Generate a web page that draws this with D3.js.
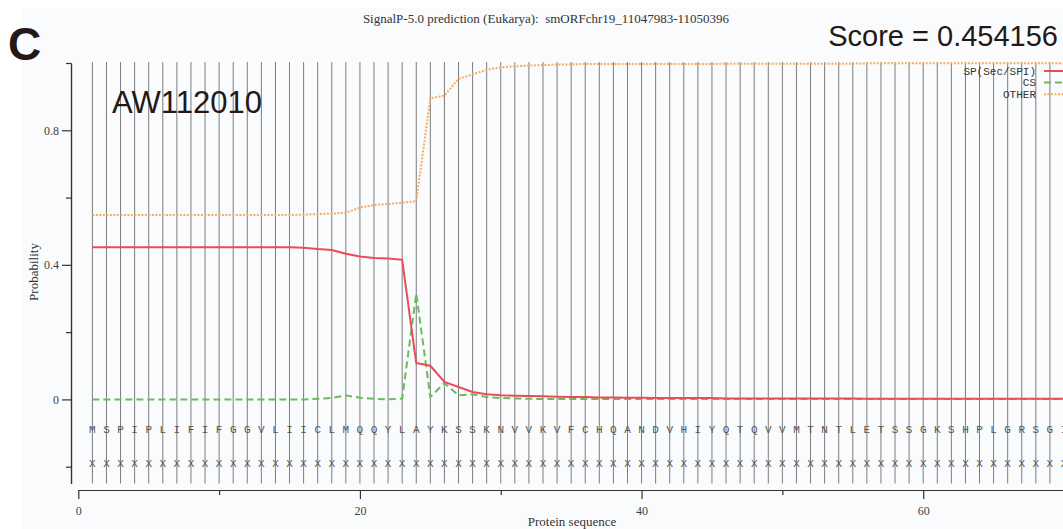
<!doctype html>
<html>
<head>
<title>SignalP-5.0 prediction</title>
<script src="https://d3js.org/d3.v7.min.js"></script>
<style>
  body { margin: 0; background: #fff; }
  svg { display: block; }
</style>
</head>
<body>
<script>

// sequence residues, position 1..70
var residues = "MSPIPLIFIFGGVLIICLMQQYLAYKSSKNVVKVFCHQANDVHIYQTQVVMTNTLETSSGKSHPLGRSGI".split("");

// probabilities per position
var spValues = [0.452,0.452,0.452,0.452,0.452,0.452,0.452,0.452,0.452,0.452,
                0.452,0.452,0.452,0.452,0.452,0.451,0.447,0.444,0.433,0.425,
                0.420,0.419,0.415,0.108,0.100,0.052,0.037,0.022,0.015,0.012,
                0.011,0.010,0.009,0.008,0.007,0.007,0.006,0.006,0.005,0.005,
                0.004,0.004,0.004,0.004,0.004,0.003,0.003,0.003,0.003,0.003,
                0.003,0.003,0.003,0.003,0.003,0.002,0.002,0.002,0.002,0.002,
                0.002,0.002,0.002,0.002,0.002,0.002,0.002,0.002,0.002,0.002];

var csValues = [0.000,0.000,0.000,0.000,0.000,0.000,0.000,0.000,0.000,0.000,
                0.000,0.000,0.000,0.000,0.000,0.000,0.002,0.004,0.012,0.005,
                0.002,0.000,0.002,0.315,0.007,0.049,0.012,0.015,0.007,0.004,
                0.003,0.002,0.001,0.001,0.001,0.001,0.001,0.001,0.001,0.001,
                0.001,0.001,0.001,0.001,0.001,0.001,0.001,0.001,0.001,0.001,
                0.001,0.001,0.001,0.001,0.001,0.001,0.001,0.001,0.001,0.001,
                0.001,0.001,0.001,0.001,0.001,0.001,0.001,0.001,0.001,0.001];

var otherValues = [0.548,0.548,0.548,0.548,0.548,0.548,0.548,0.548,0.548,0.548,
                   0.548,0.548,0.548,0.548,0.548,0.549,0.551,0.552,0.555,0.570,
                   0.578,0.581,0.585,0.589,0.895,0.903,0.953,0.966,0.980,0.987,
                   0.990,0.992,0.994,0.995,0.996,0.997,0.997,0.997,0.997,0.997,
                   0.997,0.997,0.997,0.997,0.997,0.998,0.998,0.998,0.998,0.998,
                   0.998,0.998,0.998,0.998,0.998,0.999,0.999,0.999,0.999,0.999,
                   0.999,0.999,0.999,0.999,0.999,0.999,0.999,0.999,0.999,0.999];

var xMajorTicks = [0, 20, 40, 60];
var xMinorTicks = [10, 30, 50, 70];
var yMajorTicks = [0, 0.4, 0.8];
var yMinorTicks = [-0.2, 0.2, 0.6, 1.0];

var legendNames = ["SP(Sec/SPI)", "CS", "OTHER"];

var W = 1063, H = 529;

var svg = d3.select("body").append("svg").attr("width", W).attr("height", H);

// faint panel background
svg.append("rect").attr("x", 23).attr("y", 8).attr("width", W - 23).attr("height", H - 8)
   .attr("fill", "#f9fbfd");

var xscale = d3.scaleLinear().domain([0, 70]).range([78.3, 1064]);
var yscale = d3.scaleLinear().domain([-0.25, 1.0]).range([483.5, 63]);

var positions = d3.range(1, residues.length + 1);

// vertical guide line at every residue
svg.append("g").selectAll("line").data(positions).enter().append("line")
   .attr("x1", function(d){ return xscale(d); })
   .attr("x2", function(d){ return xscale(d); })
   .attr("y1", 62)
   .attr("y2", yscale(-0.25))
   .attr("stroke", "#7c7c7c")
   .attr("stroke-width", 1);

// residue letters and X row
var seqFont = "'Liberation Mono', 'DejaVu Sans Mono', monospace";
svg.append("g").selectAll("text").data(positions).enter().append("text")
   .attr("x", function(d){ return xscale(d); })
   .attr("y", yscale(-0.1))
   .attr("text-anchor", "middle")
   .attr("font-family", seqFont).attr("font-size", 11).attr("fill", "#555")
   .text(function(d){ return residues[d - 1]; });

svg.append("g").selectAll("text").data(positions).enter().append("text")
   .attr("x", function(d){ return xscale(d); })
   .attr("y", yscale(-0.2))
   .attr("text-anchor", "middle")
   .attr("font-family", seqFont).attr("font-size", 11).attr("fill", "#555")
   .text("X");

// axes
var serif = "'Liberation Serif', 'DejaVu Serif', serif";
var axisColor = "#3a302c";

var yAxisG = svg.append("g").attr("transform", "translate(71,0)")
   .call(d3.axisLeft(yscale).tickValues(yMajorTicks).tickSize(9).tickSizeOuter(0)
        .tickFormat(function(d){ return d === 0 ? "0" : d3.format(".1f")(d); }));
svg.append("g").attr("transform", "translate(71,0)")
   .call(d3.axisLeft(yscale).tickValues(yMinorTicks).tickSize(5).tickSizeOuter(0).tickFormat(""));

var xAxisG = svg.append("g").attr("transform", "translate(0,490)")
   .call(d3.axisBottom(xscale).tickValues(xMajorTicks).tickSize(9).tickSizeOuter(0).tickPadding(7));
svg.append("g").attr("transform", "translate(0,490)")
   .call(d3.axisBottom(xscale).tickValues(xMinorTicks).tickSize(5).tickSizeOuter(0).tickFormat(""));

svg.selectAll(".domain, .tick line").attr("stroke", axisColor).attr("stroke-width", 1.2);
svg.selectAll(".tick text").attr("font-family", serif).attr("font-size", 12).attr("fill", "#444");
yAxisG.selectAll(".tick text").attr("x", -12);

// curves
function seriesLine(vals) {
  return d3.line()
    .x(function(d, i){ return xscale(i + 1); })
    .y(function(d){ return yscale(d); })(vals);
}

var series = [
  { vals: otherValues, color: "#f7ad60", dash: "2,1.5" },
  { vals: csValues,    color: "#6cbb5c", dash: "7,4" },
  { vals: spValues,    color: "#ee4a58", dash: null }
];

series.forEach(function(s){
  var p = svg.append("path").attr("d", seriesLine(s.vals))
     .attr("fill", "none").attr("stroke", s.color).attr("stroke-width", 2)
     .attr("stroke-linejoin", "round");
  if (s.dash) p.attr("stroke-dasharray", s.dash);
});

// legend
var legendColors = ["#ee4a58", "#6cbb5c", "#f7ad60"];
var legendDash = [null, "7,4", "2,1.5"];
legendNames.forEach(function(name, i){
  var ly = 71 + i * 11.6;
  svg.append("text").attr("x", 1036).attr("y", ly + 3.5)
     .attr("text-anchor", "end")
     .attr("font-family", seqFont).attr("font-size", 11).attr("fill", "#333")
     .text(name);
  var l = svg.append("line").attr("x1", 1044).attr("x2", 1066).attr("y1", ly).attr("y2", ly)
     .attr("stroke", legendColors[i]).attr("stroke-width", 2);
  if (legendDash[i]) l.attr("stroke-dasharray", legendDash[i]);
});

// labels
svg.append("text").attr("x", 546).attr("y", 23).attr("text-anchor", "middle")
   .attr("font-family", serif).attr("font-size", 13).attr("fill", "#333")
   .text("SignalP-5.0 prediction (Eukarya):  smORFchr19_11047983-11050396")
   .attr("xml:space", "preserve").style("white-space", "pre");

svg.append("text").attr("x", 572).attr("y", 526).attr("text-anchor", "middle")
   .attr("font-family", serif).attr("font-size", 13).attr("fill", "#333")
   .text("Protein sequence");

svg.append("text").attr("transform", "translate(38,272) rotate(-90)")
   .attr("text-anchor", "middle")
   .attr("font-family", serif).attr("font-size", 13).attr("fill", "#333")
   .text("Probability");

var sans = "'Liberation Sans', Arial, sans-serif";
svg.append("text").attr("x", 8).attr("y", 60)
   .attr("font-family", sans).attr("font-weight", "bold").attr("font-size", 46).attr("fill", "#231815")
   .text("C");

svg.append("text").attr("x", 112).attr("y", 113)
   .attr("font-family", sans).attr("font-size", 31).attr("fill", "#231815")
   .text("AW112010");

svg.append("text").attr("x", 1058).attr("y", 46).attr("text-anchor", "end")
   .attr("font-family", sans).attr("font-size", 29).attr("fill", "#231815")
   .text("Score = 0.454156");

</script>
</body>
</html>
